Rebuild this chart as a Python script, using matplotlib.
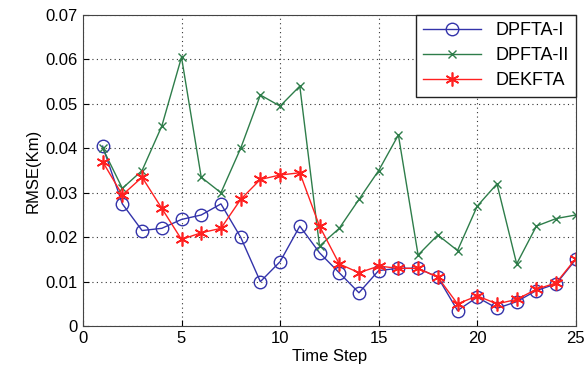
import numpy as np
import matplotlib
matplotlib.use("Agg")
import matplotlib.pyplot as plt

steps = list(range(1, 26))

dpfta_1 = [0.0405, 0.0275, 0.0215, 0.022, 0.024, 0.025, 0.0275, 0.020, 0.010, 0.0145,
           0.0225, 0.0165, 0.012, 0.0075, 0.0125, 0.013, 0.013, 0.011, 0.0035, 0.0065,
           0.004, 0.0055, 0.008, 0.0095, 0.015]
dpfta_2 = [0.040, 0.031, 0.035, 0.045, 0.0605, 0.0335, 0.030, 0.040, 0.052, 0.0495,
           0.054, 0.018, 0.022, 0.0285, 0.035, 0.043, 0.016, 0.0205, 0.017, 0.027,
           0.032, 0.014, 0.0225, 0.0242, 0.025]
dekfta = [0.037, 0.0295, 0.0335, 0.0265, 0.0195, 0.021, 0.022, 0.0285, 0.033, 0.034,
          0.0345, 0.0225, 0.014, 0.012, 0.0135, 0.013, 0.013, 0.011, 0.005, 0.0068,
          0.005, 0.006, 0.0083, 0.0097, 0.0152]

plt.rcParams['font.family'] = ['Liberation Sans', 'DejaVu Sans']

fig = plt.figure(figsize=(5.84, 3.85), dpi=100)
ax = fig.add_axes([0.142, 0.153, 0.844, 0.808])

ax.plot(steps, dpfta_1, color='#3333aa', marker='o', markersize=9,
        markerfacecolor='none', markeredgewidth=1.0, linewidth=1.0, label='DPFTA-I')
ax.plot(steps, dpfta_2, color='#2e7d4a', marker='x', markersize=6,
        markeredgewidth=1.0, linewidth=1.0, label='DPFTA-II')
# matlab-style asterisk marker
ax.plot(steps, dekfta, color='#ff2020', marker=(6, 2, 0), markersize=10,
        markeredgewidth=1.2, linewidth=1.0, label='DEKFTA')

ax.set_xlim(0, 25)
ax.set_ylim(0, 0.07)
ax.set_xticks([0, 5, 10, 15, 20, 25])
ax.set_yticks(np.arange(0, 0.071, 0.01))
ax.set_yticklabels(['0', '0.01', '0.02', '0.03', '0.04', '0.05', '0.06', '0.07'])
ax.grid(True, linestyle=(0, (1, 3)), color='#333333', linewidth=0.8)
ax.tick_params(direction='in', labelsize=12, length=4)
ax.set_xlabel('Time Step', fontsize=12, labelpad=2)
ax.set_ylabel('RMSE(Km)', fontsize=12)
for s in ax.spines.values():
    s.set_color('#444444')

leg = ax.legend(loc='upper right', fontsize=13, fancybox=False, framealpha=1,
                edgecolor='#222222', handlelength=3.2, borderaxespad=0,
                labelspacing=0.45)
leg.get_frame().set_linewidth(1.0)

fig.savefig('out.png', dpi=100)
